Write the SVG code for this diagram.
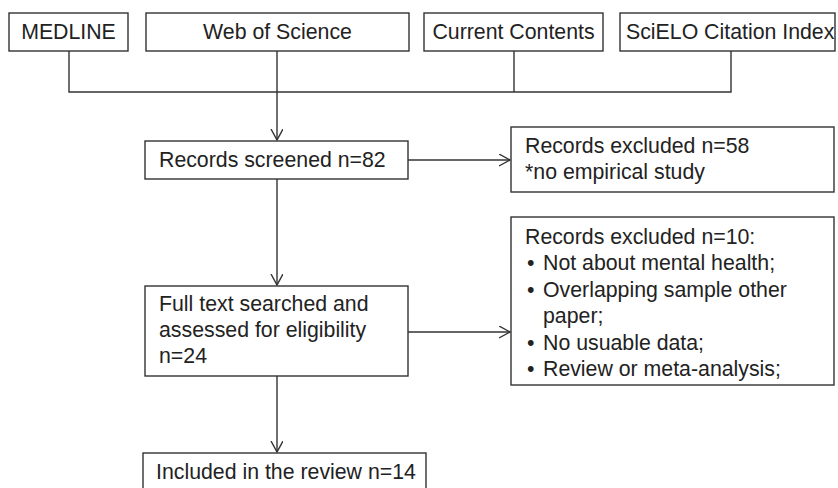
<svg xmlns="http://www.w3.org/2000/svg" width="838" height="488" viewBox="0 0 838 488">
<defs>
<style>
.box{fill:#fff;stroke:#333;stroke-width:1.4}
.t{font-family:"Liberation Sans",Arial,sans-serif;font-size:21.3px;fill:#222}
.c{text-anchor:middle}
.ln{fill:none;stroke:#333;stroke-width:1.4}
</style>
<marker id="arr" markerWidth="14" markerHeight="14" refX="11" refY="6" orient="auto" markerUnits="userSpaceOnUse" viewBox="0 0 14 14">
<path d="M0,0 L11,6 L0,12" fill="none" stroke="#333" stroke-width="1.4"/>
</marker>
</defs>
<rect width="838" height="488" fill="#fff"/>
<g id="connectors">
<path class="ln" d="M69,51 V92 H731 V51"/>
<path class="ln" d="M514,51 V92"/>
<path class="ln" d="M277,51 V140" marker-end="url(#arr)"/>
<path class="ln" d="M408,160 H510" marker-end="url(#arr)"/>
<path class="ln" d="M277,179 V285" marker-end="url(#arr)"/>
<path class="ln" d="M408,332 H510" marker-end="url(#arr)"/>
<path class="ln" d="M277,376 V452" marker-end="url(#arr)"/>
</g>
<g id="medline"><rect class="box" x="9" y="13" width="119" height="38"/><text class="t c" x="68.5" y="39">MEDLINE</text></g>
<g id="wos"><rect class="box" x="146" y="13" width="263" height="38"/><text class="t c" x="277.5" y="39">Web of Science</text></g>
<g id="cc"><rect class="box" x="424" y="13" width="179" height="38"/><text class="t c" x="513.5" y="39">Current Contents</text></g>
<g id="scielo"><rect class="box" x="620" y="13" width="215" height="38"/><text class="t" x="626" y="39">SciELO Citation Index</text></g>
<g id="screened"><rect class="box" x="145" y="141" width="263" height="38"/><text class="t" x="159" y="167">Records screened n=82</text></g>
<g id="excl58"><rect class="box" x="511" y="127" width="323" height="65"/><text class="t" x="525" y="153">Records excluded n=58</text><text class="t" x="525" y="179">*no empirical study</text></g>
<g id="fulltext"><rect class="box" x="145" y="286" width="263" height="90"/><text class="t" x="159" y="311">Full text searched and</text><text class="t" x="159" y="337">assessed for eligibility</text><text class="t" x="159" y="363">n=24</text></g>
<g id="excl10"><rect class="box" x="511" y="217" width="323" height="168"/>
<text class="t" x="525" y="244">Records excluded n=10:</text>
<text class="t" x="527" y="270">•</text><text class="t" x="543" y="270">Not about mental health;</text>
<text class="t" x="527" y="297">•</text><text class="t" x="543" y="297">Overlapping sample other</text>
<text class="t" x="543" y="323">paper;</text>
<text class="t" x="527" y="350">•</text><text class="t" x="543" y="350">No usuable data;</text>
<text class="t" x="527" y="376">•</text><text class="t" x="543" y="376">Review or meta-analysis;</text>
</g>
<g id="included"><rect class="box" x="143" y="453" width="283" height="45"/><text class="t" x="156" y="479">Included in the review n=14</text></g>
</svg>
